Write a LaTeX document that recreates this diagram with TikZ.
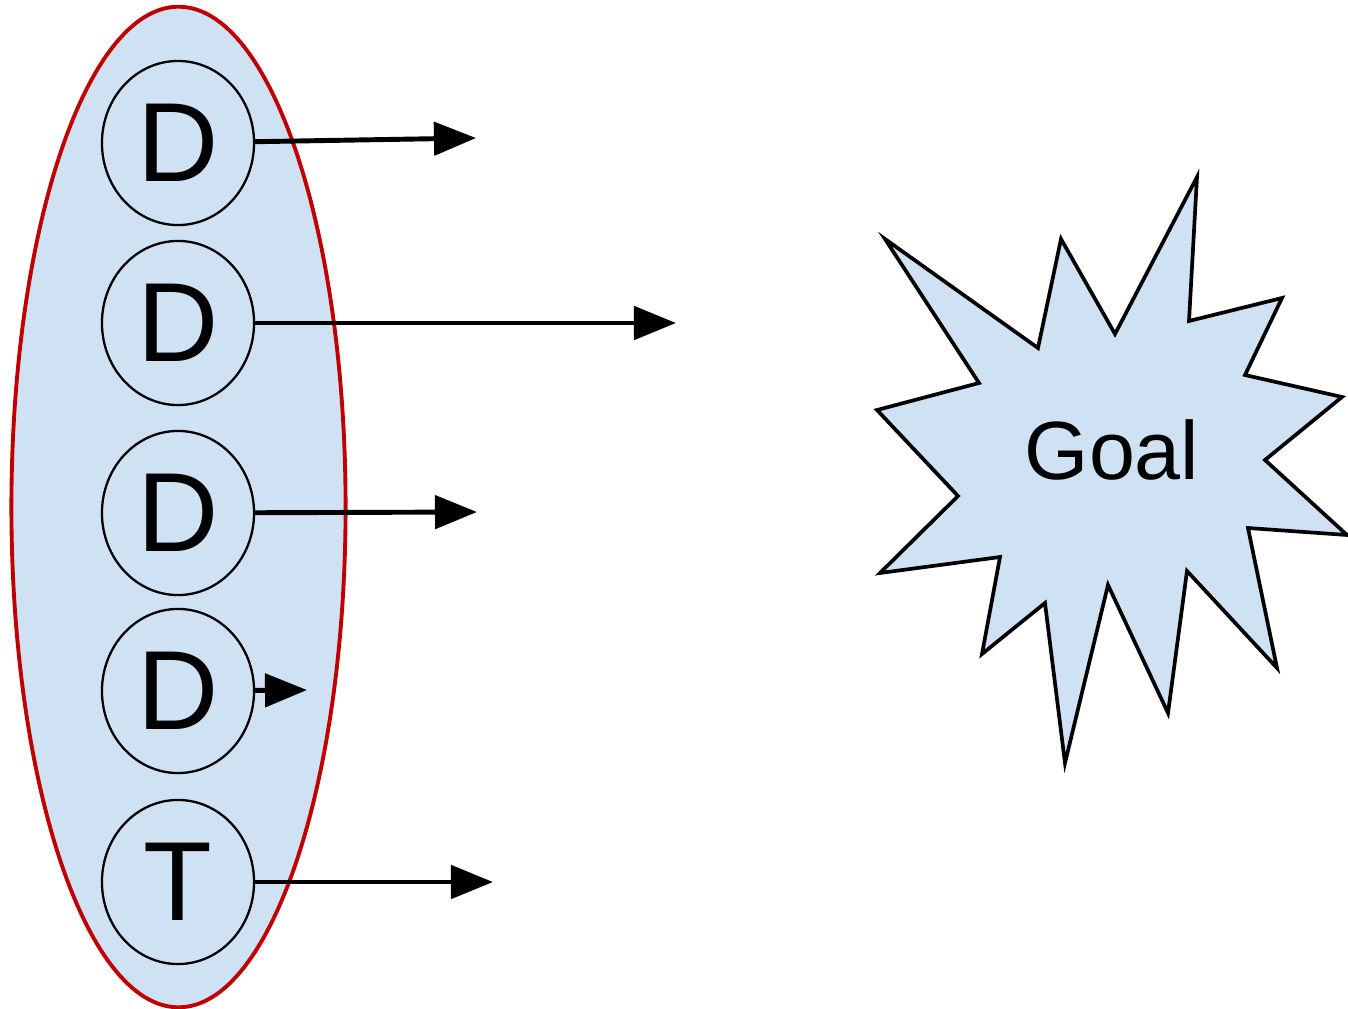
\documentclass[tikz,border=0pt]{standalone}
\usepackage{fontspec}
\setmainfont{Liberation Sans}
\usetikzlibrary{shapes.geometric, arrows.meta, positioning, calc}
\definecolor{paleblue}{HTML}{CFE2F3}
\definecolor{ringred}{HTML}{C00000}

\begin{document}
\begin{tikzpicture}[x=0.01cm, y=-0.01cm, >={Triangle[length=0.42cm, width=0.33cm]}]

        % --- styles ---
        \tikzstyle{cluster} = [ellipse, draw=ringred, line width=1.1pt, fill=paleblue, minimum width=3.34cm, minimum height=10cm, inner sep=0pt]
        \tikzstyle{agent} = [ellipse, draw=black, line width=0.65pt, minimum width=1.52cm, minimum height=1.64cm, inner sep=0pt, font=\fontsize{32}{36}\selectfont]
        \tikzstyle{arrow} = [line width=1.4pt, ->]

        \useasboundingbox (0,0) rectangle (1348,1009);

        % --- team ---
        \node (team) [cluster] at (178.5,507) {};

        \node (d1) [agent] at (178,143) {D};
        \node (d2) [agent] at (178,323) {D};
        \node (d3) [agent] at (178,513) {D};
        \node (d4) [agent] at (178,691) {D};
        \node (t1) [agent] at (178,882) {T};

        % --- arrow ends ---
        \coordinate (e1) at (476,138);
        \coordinate (e2) at (676,323);
        \coordinate (e3) at (477,512);
        \coordinate (e4) at (307,690);
        \coordinate (e5) at (493,882);

        \draw[arrow] (d1) -- (e1);
        \draw[arrow] (d2) -- (e2);
        \draw[arrow] (d3) -- (e3);
        \draw[arrow] (d4) -- (e4);
        \draw[arrow] (t1) -- (e5);

        % --- goal ---
        \draw[line width=1.05pt, fill=paleblue, line join=miter]
            (885,239) -- (1038,348) -- (1061,239) -- (1115,334) -- (1197,177) -- (1189,321)
            -- (1282,298) -- (1245,375) -- (1342,397) -- (1265,460) -- (1347,535) -- (1248,528)
            -- (1277,668) -- (1187,571) -- (1168,713) -- (1108,585) -- (1065,763) -- (1045,603)
            -- (982,654) -- (1000,557) -- (880,573) -- (958,496) -- (877,410) -- (979,383) -- cycle;
        \node (goal) at (1112,450) {\fontsize{23.5}{28}\selectfont Goal};

\end{tikzpicture}
\end{document}
